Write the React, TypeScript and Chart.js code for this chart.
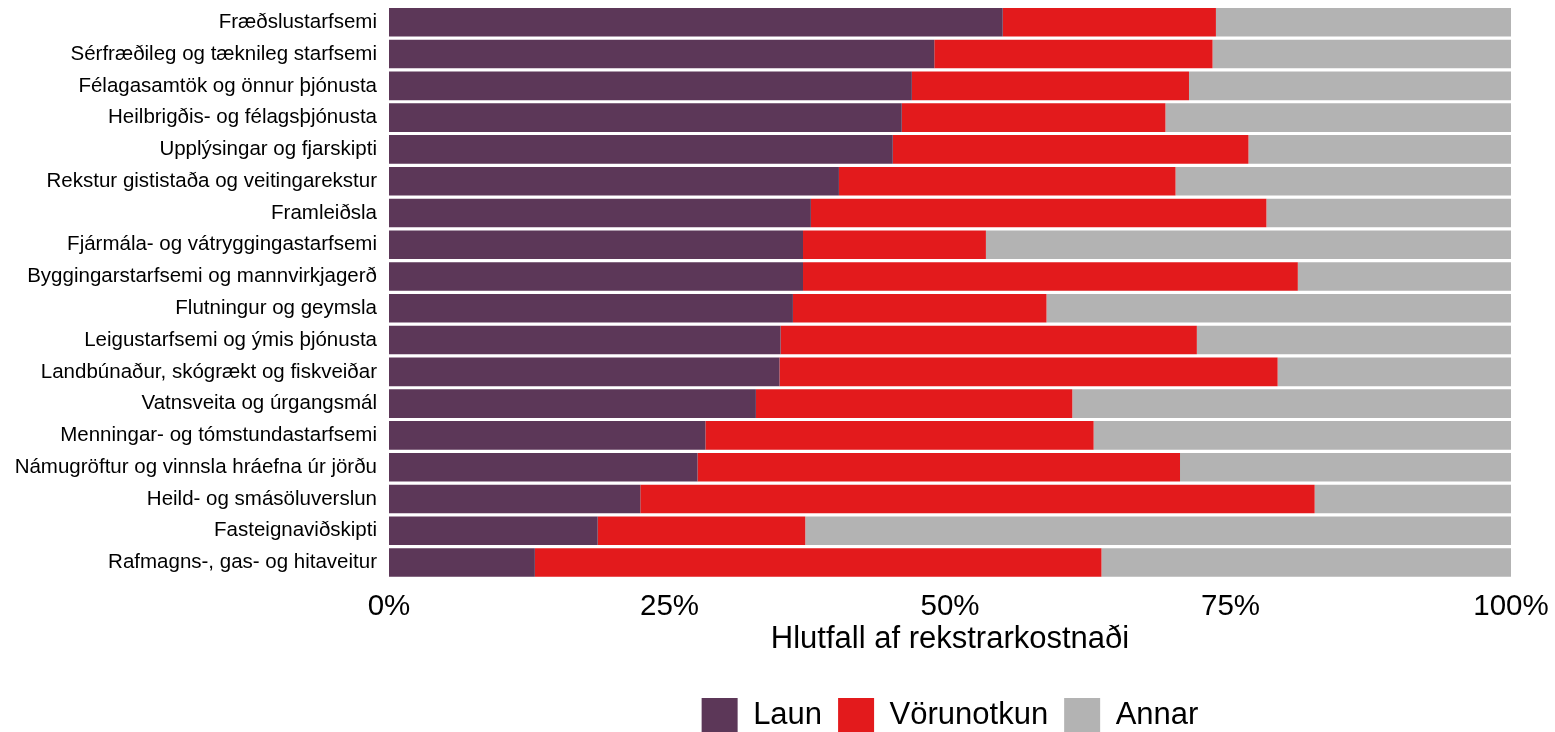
import { useEffect, useRef } from "react";
import { Chart, registerables } from "chart.js";

Chart.register(...registerables);

const categories = [
  "Fræðslustarfsemi",
  "Sérfræðileg og tæknileg starfsemi",
  "Félagasamtök og önnur þjónusta",
  "Heilbrigðis- og félagsþjónusta",
  "Upplýsingar og fjarskipti",
  "Rekstur gististaða og veitingarekstur",
  "Framleiðsla",
  "Fjármála- og vátryggingastarfsemi",
  "Byggingarstarfsemi og mannvirkjagerð",
  "Flutningur og geymsla",
  "Leigustarfsemi og ýmis þjónusta",
  "Landbúnaður, skógrækt og fiskveiðar",
  "Vatnsveita og úrgangsmál",
  "Menningar- og tómstundastarfsemi",
  "Námugröftur og vinnsla hráefna úr jörðu",
  "Heild- og smásöluverslun",
  "Fasteignaviðskipti",
  "Rafmagns-, gas- og hitaveitur",
];

const laun = [54.7, 48.6, 46.6, 45.7, 44.9, 40.1, 37.6, 36.9, 36.9, 36.0, 34.9, 34.8, 32.7, 28.2, 27.5, 22.4, 18.6, 13.0];
const vorunotkun = [19.0, 24.8, 24.7, 23.5, 31.7, 30.0, 40.6, 16.3, 44.1, 22.6, 37.1, 44.4, 28.2, 34.6, 43.0, 60.1, 18.5, 50.5];
const annar = [26.3, 26.6, 28.7, 30.8, 23.4, 29.9, 21.8, 46.8, 19.0, 41.4, 28.0, 20.8, 39.1, 37.2, 29.5, 17.5, 62.9, 36.5];

const seriesNames = ["Laun", "Vörunotkun", "Annar"];
const xTickStep = 25;
const xTitle = "Hlutfall af rekstrarkostnaði";

const FONT = "'Liberation Sans', Arial, sans-serif";

export default function App() {
  const ref = useRef<HTMLCanvasElement>(null);
  useEffect(() => {
    document.body.style.margin = "0";
    const chart = new Chart(ref.current!, {
      type: "bar",
      data: {
        labels: categories,
        datasets: [
          { label: seriesNames[0], data: laun, backgroundColor: "#5C3758" },
          { label: seriesNames[1], data: vorunotkun, backgroundColor: "#E31A1C" },
          { label: seriesNames[2], data: annar, backgroundColor: "#B3B3B3" },
        ],
      },
      options: {
        indexAxis: "y",
        animation: false,
        responsive: false,
        devicePixelRatio: 1,
        datasets: { bar: { barPercentage: 0.9, categoryPercentage: 1.0 } },
        layout: { padding: { top: 6.4, right: 44, bottom: 0, left: 0 } },
        plugins: {
          tooltip: { enabled: false },
          legend: {
            position: "bottom",
            fullSize: false,
            labels: {
              boxWidth: 36,
              boxHeight: 34,
              padding: 16,
              color: "#000",
              font: { family: FONT, size: 31 },
            },
          },
        },
        scales: {
          x: {
            stacked: true,
            min: 0,
            max: 100,
            grid: { display: false, drawTicks: false },
            border: { display: false },
            ticks: {
              stepSize: xTickStep,
              padding: 11,
              color: "#000",
              font: { family: FONT, size: 29.5 },
              callback: (v: any) => v + "%",
            },
            title: {
              display: true,
              text: xTitle,
              color: "#000",
              font: { family: FONT, size: 31 },
              padding: { top: 0, bottom: 24 },
            },
            afterFit: (s: any) => {
              s.height = 103.6;
              s.paddingLeft = 0;
              s.paddingRight = 0;
            },
          },
          y: {
            stacked: true,
            grid: { display: false, drawTicks: false },
            border: { display: false },
            ticks: {
              padding: 12,
              color: "#000",
              font: { family: FONT, size: 20.5 },
            },
            afterFit: (s: any) => {
              s.width = 389;
              s.paddingTop = 0;
              s.paddingBottom = 0;
            },
          },
        },
      },
    });
    return () => chart.destroy();
  }, []);
  return (
    <div style={{ position: "absolute", left: 0, top: 0, width: 1555, height: 732, overflow: "hidden" }}>
      <canvas ref={ref} width={1555} height={742} style={{ width: 1555, height: 742 }} />
    </div>
  );
}
